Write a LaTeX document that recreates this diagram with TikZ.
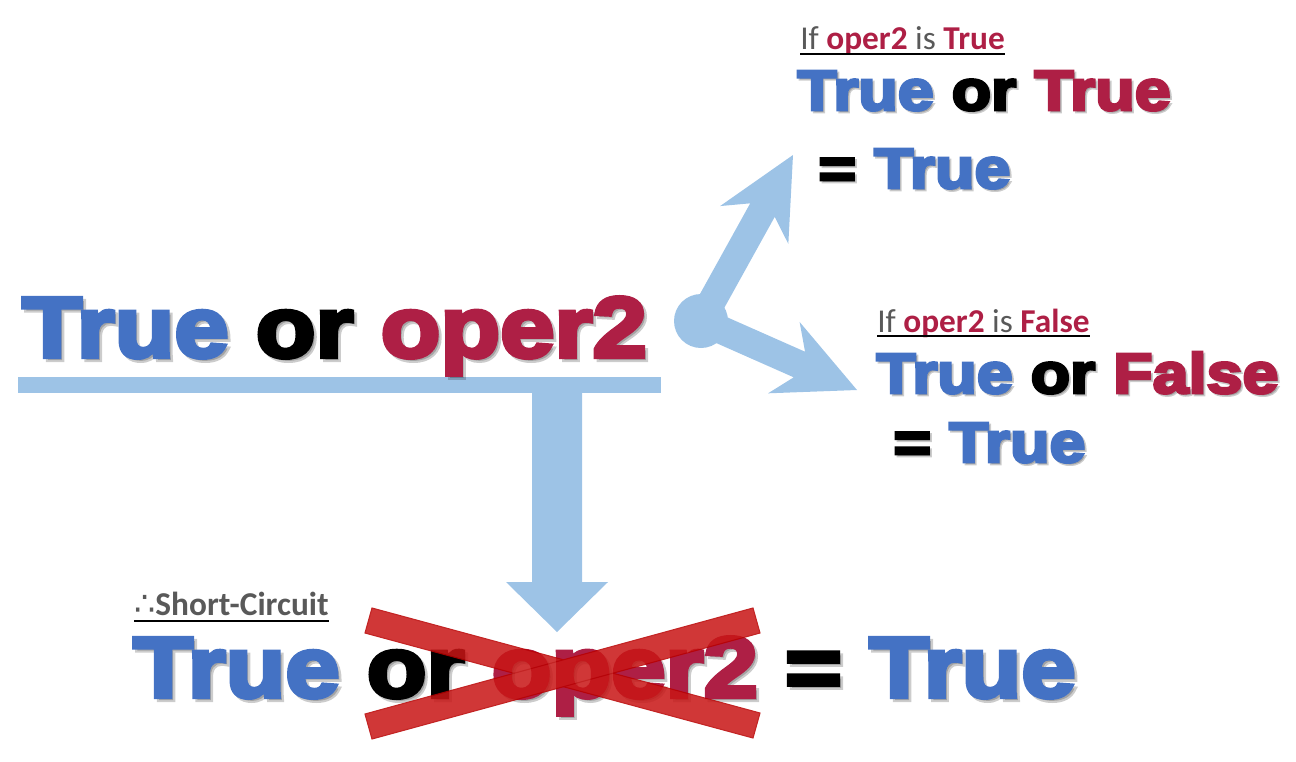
\documentclass[tikz,border=0pt]{standalone}
\usepackage{fontspec}
\usetikzlibrary{calc}
\newfontfamily\heavy{Liberation Sans Bold}[FakeBold=5,FakeStretch=1.14]
\newfontfamily\calib{Carlito}
\newfontfamily\djv{DejaVu Sans}
\definecolor{tblue}{RGB}{68,114,196}
\definecolor{tred}{RGB}{174,31,69}
\definecolor{abl}{RGB}{157,195,230}
\definecolor{lgrey}{RGB}{89,89,89}
\definecolor{xred}{RGB}{200,22,22}
\definecolor{xedge}{RGB}{185,0,0}
\newif\ifshad
\newcommand\Bl[1]{\ifshad#1\else\textcolor{tblue}{#1}\fi}
\newcommand\Rd[1]{\ifshad#1\else\textcolor{tred}{#1}\fi}
\newcommand\Rb[1]{\textbf{\textcolor{tred}{#1}}}
\begin{document}
\begin{tikzpicture}[x=0.75pt,y=-0.75pt,
  big/.style={font=\heavy\fontsize{64.3}{70}\selectfont, anchor=base west, inner sep=0pt},
  mid/.style={font=\heavy\fontsize{42.5}{48}\selectfont, anchor=base west, inner sep=0pt},
  lab/.style={font=\calib\fontsize{25}{28}\selectfont, anchor=base west, inner sep=0pt, text=lgrey},
  shad/.style={text=black, opacity=0.2, execute at begin node=\shadtrue},
  uline/.style={line width=1.6pt, black},
  fat/.style={fill=abl, draw=none}]
\useasboundingbox (0,0) rectangle (1296,761);

% ---------- blue shapes ----------
\fill[fat] (18,377) rectangle (661,393);
\coordinate (vtop) at (557,393);
\coordinate (vtip) at (557,632);
\fill[fat] (532,393) -- (582,393) -- (582,582) -- (608,582) -- (vtip) -- (506,582) -- (532,582) -- cycle;

\coordinate (c) at (701,321);
\coordinate (t1) at (793,155);
\coordinate (t2) at (857,390);
\foreach \t in {t1,t2}{
  \coordinate (hb) at ($(\t)!60pt!(c)$);
  \coordinate (nb) at ($(\t)!47.25pt!(c)$);
  \coordinate (wa) at ($(hb)!29.25pt!90:(\t)$);
  \coordinate (wb) at ($(hb)!29.25pt!-90:(\t)$);
  \coordinate (na) at ($(nb)!10.5pt!90:(\t)$);
  \coordinate (nbb) at ($(nb)!10.5pt!-90:(\t)$);
  \coordinate (sa) at ($(c)!10.5pt!90:(\t)$);
  \coordinate (sb) at ($(c)!10.5pt!-90:(\t)$);
  \fill[fat] (\t) -- (wa) -- (na) -- (sa) -- (sb) -- (nbb) -- (wb) -- cycle;
}
\fill[fat] (c) circle[radius=27];

% ---------- main expression ----------
\node[big,shad] (main-sh) at (25,360) {True or oper2};
\node[big] (main) at (22,357) {\Bl{True} or \Rd{oper2}};

% ---------- upper right ----------
\node[lab] (lab1) at (800,49) {If \Rb{oper2} is \Rb{True}};
\draw[uline] ($(lab1.base west)+(0,5)$) -- ($(lab1.base east)+(0,5)$);
\node[mid,shad] (e1-sh) at (799,112) {True or True};
\node[mid] (e1) at (797,110) {\Bl{True} or \Rd{True}};
\node[mid,shad] (r1-sh) at (820,190) {= True};
\node[mid] (r1) at (818,188) {= \Bl{True}};

% ---------- right middle ----------
\node[lab] (lab2) at (877,332) {If \Rb{oper2} is \Rb{False}};
\draw[uline] ($(lab2.base west)+(0,4)$) -- ($(lab2.base east)+(0,4)$);
\node[mid,shad] (e2-sh) at (878,395) {True or False};
\node[mid] (e2) at (876,393) {\Bl{True} or \Rd{False}};
\node[mid,shad] (r2-sh) at (895,464) {= True};
\node[mid] (r2) at (893,462) {= \Bl{True}};

% ---------- bottom ----------
\node[lab] (lab3) at (134,615) {{\djv\fontsize{25}{28}\selectfont ∴}\textbf{Short-Circuit}};
\draw[uline] ($(lab3.base west)+(0,6)$) -- ($(lab3.base east)+(0,6)$);
\node[big,shad] (res-sh) at (136,700) {True or oper2 = True};
\node[big] (res) at (133,697) {\Bl{True} or \Rd{oper2} = \Bl{True}};

% ---------- red cross ----------
\begin{scope}[transparency group, opacity=0.86]
  \filldraw[fill=xred, draw=xedge, line width=0.8pt] (372,608) -- (760,713) -- (753,738) -- (365,633) -- cycle;
  \filldraw[fill=xred, draw=xedge, line width=0.8pt] (365,714) -- (753,608) -- (760,633) -- (372,739) -- cycle;
\end{scope}
\end{tikzpicture}
\end{document}
